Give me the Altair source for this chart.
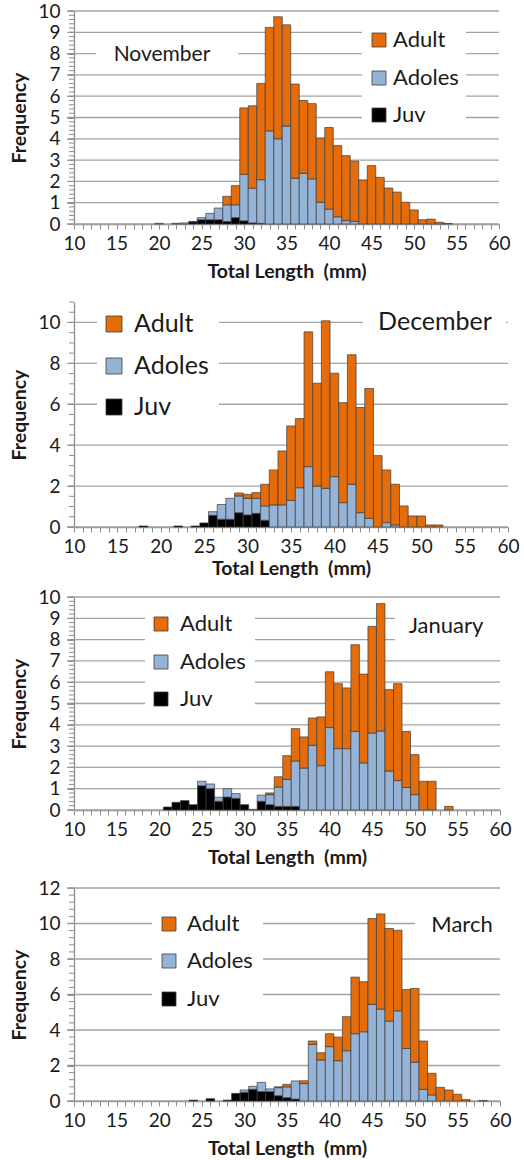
import altair as alt
import pandas as pd

# Size classes, stacked bottom to top
CLASSES = ["Juv", "Adoles", "Adult"]
CLASS_COLORS = ["#000000", "#95B3D7", "#E46C0A"]
LEGEND_ORDER = ["Adult", "Adoles", "Juv"]

# Frequency per 1-mm total-length class, one list per life stage
nov_first = 20
nov_juv = [0, 0, 0, 0, 0.10, 0.20, 0.20, 0.20, 0.12, 0.30, 0.15, 0.05, 0.03,
           0, 0, 0, 0, 0, 0, 0, 0, 0, 0, 0, 0, 0, 0, 0, 0, 0, 0, 0, 0, 0, 0]
nov_adoles = [0.03, 0, 0.03, 0.05, 0.02, 0.10, 0.30, 0.55, 0.78, 0.60, 2.18, 1.63,
              2.05, 4.37, 4.00, 4.60, 2.15, 2.38, 2.12, 1.02, 0.70, 0.34, 0.16, 0.12,
              0, 0, 0, 0, 0, 0, 0, 0, 0, 0, 0]
nov_adult = [0, 0, 0, 0, 0, 0, 0, 0, 0.40, 0.90, 3.12, 3.87, 4.52, 4.86, 5.73, 4.75,
             4.42, 3.42, 3.53, 3.02, 3.83, 3.34, 3.05, 2.83, 2.07, 2.74, 2.19, 1.69,
             1.50, 1.02, 0.66, 0.20, 0.23, 0.08, 0.02]

dec_first = 18
dec_juv = [0.05, 0, 0, 0, 0.05, 0, 0.05, 0.20, 0.57, 0.38, 0.38, 0.70, 0.59, 0.67, 0.33,
           0, 0, 0, 0, 0, 0, 0, 0, 0, 0, 0, 0, 0, 0, 0, 0, 0, 0, 0, 0]
dec_adoles = [0, 0, 0, 0, 0, 0, 0, 0, 0.18, 0.72, 1.02, 0.82, 0.81, 0.73, 0.70, 1.08,
              1.08, 1.30, 1.92, 2.95, 2.00, 1.89, 2.46, 1.19, 2.09, 0.70, 0.42, 0, 0.21,
              0.10, 0, 0, 0, 0, 0]
dec_adult = [0, 0, 0, 0, 0, 0, 0, 0, 0, 0, 0, 0.14, 0.20, 0.28, 1.06, 1.71, 2.64, 3.64,
             3.38, 6.59, 5.03, 8.19, 5.06, 4.89, 6.33, 5.14, 6.35, 3.49, 2.58, 1.99, 1.03,
             0.54, 0.54, 0.10, 0.10]

jan_first = 21
jan_juv = [0.14, 0.36, 0.44, 0.25, 1.14, 1.00, 0.41, 0.61, 0.55, 0.25, 0, 0.41, 0.25,
           0.17, 0.17, 0.17, 0, 0, 0, 0, 0, 0, 0, 0, 0, 0, 0, 0, 0, 0, 0, 0, 0, 0]
jan_adoles = [0, 0, 0, 0, 0.21, 0.22, 0.19, 0.39, 0.22, 0, 0.03, 0.29, 0.47, 0.91, 1.27,
              2.13, 1.97, 3.04, 2.08, 3.87, 2.88, 2.88, 3.69, 2.21, 3.61, 3.71, 1.83,
              1.38, 1.06, 0.72, 0, 0, 0, 0]
jan_adult = [0, 0, 0, 0, 0, 0, 0, 0, 0, 0, 0, 0, 0.08, 0.48, 1.11, 1.52, 1.46, 1.28,
             2.29, 2.62, 3.05, 2.85, 4.07, 4.17, 5.01, 5.98, 3.82, 4.55, 2.63, 1.88,
             1.35, 1.35, 0, 0.17]

mar_first = 24
mar_juv = [0.05, 0, 0.13, 0, 0.05, 0.43, 0.49, 0.66, 0.53, 0.53, 0.30, 0.19, 0.11,
           0, 0, 0, 0, 0, 0, 0, 0, 0, 0, 0, 0, 0, 0, 0, 0, 0, 0, 0, 0, 0, 0]
mar_adoles = [0, 0, 0, 0, 0, 0, 0.13, 0.17, 0.52, 0.15, 0.45, 0.61, 1.02, 0.98, 3.19,
              2.31, 3.06, 2.27, 2.83, 3.79, 3.90, 5.44, 5.18, 4.50, 5.08, 2.96, 2.18,
              0.66, 0.34, 0, 0, 0, 0, 0, 0]
mar_adult = [0, 0, 0, 0, 0, 0, 0, 0, 0, 0, 0.05, 0.14, 0, 0.16, 0.19, 0.41, 0.73, 1.33,
             1.92, 3.19, 2.82, 4.84, 5.36, 5.22, 4.54, 3.32, 4.16, 2.72, 1.22, 0.77,
             0.62, 0.38, 0.08, 0, 0.03]

X_TICKS = list(range(10, 61))
X_TITLE = "Total Length\u00a0\u00a0(mm)"

FONT = "Lato"
GRID = "#a3a3a3"
AXIS = "#8c8c8c"
INK = "#1a1a1a"
EDGE = "#3c3c3c"

# Per-panel geometry (pixels, relative to each plot area)
PANELS = [
    dict(month="November", first=nov_first, cls=(nov_juv, nov_adoles, nov_adult),
         ymax=10, major=1, minor=0.2, w=425, h=213, below=67.7, title_pad=9,
         legend=dict(box=(288, 392, 11, 119), sq_x=305, sq=14, text_x=319,
                     rows=(29, 67, 104), size=22),
         label=dict(box=(22, 164, 31, 56), x=88, y=44, size=21)),
    dict(month="December", first=dec_first, cls=(dec_juv, dec_adoles, dec_adult),
         ymax=11, major=2, minor=0.5, w=434, h=225, below=59.7, title_pad=3,
         legend=dict(box=(23, 145, 5, 120), sq_x=40, sq=16, text_x=60,
                     rows=(22, 64, 105), size=25),
         label=dict(box=(289, 432, 5, 36), x=361, y=20, size=25)),
    dict(month="January", first=jan_first, cls=(jan_juv, jan_adoles, jan_adult),
         ymax=10, major=1, minor=0.2, w=426, h=213, below=67.3, title_pad=9,
         legend=dict(box=(71, 181, 8, 117), sq_x=87, sq=14, text_x=106,
                     rows=(27, 65, 102), size=22),
         label=dict(box=(321, 426, 12, 52), x=372, y=29, size=22)),
    dict(month="March", first=mar_first, cls=(mar_juv, mar_adoles, mar_adult),
         ymax=12, major=2, minor=0.4, w=426, h=213, below=58, title_pad=9,
         legend=dict(box=(78, 189, 18, 122), sq_x=95, sq=14, text_x=113,
                     rows=(36, 73, 111), size=22),
         label=dict(box=(341, 426, 22, 50), x=388, y=37, size=22)),
]


def steps(stop, step):
    n = int(round(stop / step))
    return [round(i * step, 4) for i in range(n + 1)]


def long_table(first, series):
    rows = []
    for i, values in enumerate(zip(*series)):
        for order, (cls, val) in enumerate(zip(CLASSES, values)):
            if val > 0:
                rows.append({"len": first + i, "cls": cls, "order": order, "count": val})
    return pd.DataFrame(rows)


def one_row():
    return alt.Chart(alt.Data(values=[{}]))


def panel(p):
    w, h = p["w"], p["h"]
    xscale = alt.Scale(domain=[10, 60], nice=False, zero=False)
    yscale = alt.Scale(domain=[0, p["ymax"]], nice=False, zero=True)

    major_vals = steps(p["ymax"] - p["ymax"] % p["major"], p["major"])
    majors = pd.DataFrame({"v": major_vals})
    minors = pd.DataFrame({"v": steps(p["ymax"], p["minor"])})

    yaxis = alt.Axis(
        values=major_vals, grid=False, tickSize=7, tickColor=AXIS,
        domainColor=AXIS, domainWidth=1.3, labelFont=FONT, labelFontSize=19,
        labelColor=INK, labelPadding=7,
        title="Frequency", titleFont=FONT, titleFontSize=19.5,
        titleFontWeight="bold", titleColor=INK, titlePadding=8)

    grid = alt.Chart(majors).mark_rule(color=GRID, strokeWidth=1.3).encode(
        y=alt.Y("v:Q", scale=yscale, axis=yaxis),
        x=alt.value(-7), x2=alt.value(w),
    )
    minor_ticks = alt.Chart(minors).mark_rule(color=AXIS, strokeWidth=1).encode(
        y=alt.Y("v:Q", scale=yscale, axis=yaxis),
        x=alt.value(-5), x2=alt.value(0),
    )

    layers = [grid, minor_ticks]

    # white panels that break the gridlines behind the key and the month name
    for bx in (p["legend"]["box"], p["label"]["box"]):
        layers.append(one_row().mark_rect(color="white").encode(
            x=alt.value(bx[0]), x2=alt.value(bx[1]),
            y=alt.value(bx[2]), y2=alt.value(bx[3])))

    bars = alt.Chart(long_table(p["first"], p["cls"])).transform_calculate(
        lo="datum.len - 0.5", hi="datum.len + 0.5"
    ).transform_stack(
        stack="count", groupby=["len"], as_=["y0", "y1"],
        sort=[alt.SortField("order", order="ascending")],
    ).mark_rect(stroke=EDGE, strokeWidth=0.7).encode(
        x=alt.X("lo:Q", scale=xscale, axis=alt.Axis(
            values=X_TICKS, labelExpr="datum.value % 5 === 0 ? datum.label : ''",
            labelOverlap=False, labelFlush=False, grid=False,
            tickSize=5, tickColor=AXIS, domainColor=AXIS, domainWidth=1.3,
            labelFont=FONT, labelFontSize=19, labelColor=INK, labelPadding=5,
            title=X_TITLE, titleFont=FONT, titleFontSize=19.5,
            titleFontWeight="bold", titleColor=INK, titlePadding=p["title_pad"])),
        x2="hi:Q",
        y=alt.Y("y0:Q", scale=yscale, axis=yaxis),
        y2="y1:Q",
        color=alt.Color("cls:N", scale=alt.Scale(domain=CLASSES, range=CLASS_COLORS),
                        legend=None),
    )
    layers.append(bars)

    lg = p["legend"]
    half = lg["sq"] / 2
    for name, yc in zip(LEGEND_ORDER, lg["rows"]):
        color = CLASS_COLORS[CLASSES.index(name)]
        layers.append(one_row().mark_rect(fill=color, stroke=EDGE, strokeWidth=0.8).encode(
            x=alt.value(lg["sq_x"] - half), x2=alt.value(lg["sq_x"] + half),
            y=alt.value(yc - half), y2=alt.value(yc + half)))
        layers.append(one_row().mark_text(
            text=name, font=FONT, fontSize=lg["size"], color=INK,
            align="left", baseline="middle").encode(
            x=alt.value(lg["text_x"]), y=alt.value(yc)))

    lb = p["label"]
    layers.append(one_row().mark_text(
        text=p["month"], font=FONT, fontSize=lb["size"], color=INK,
        align="center", baseline="middle").encode(
        x=alt.value(lb["x"]), y=alt.value(lb["y"])))

    # transparent frame that fixes the vertical room taken by each panel
    layers.append(one_row().mark_rule(opacity=0).encode(
        x=alt.value(0), y=alt.value(-10), y2=alt.value(h + p["below"])))

    return alt.layer(*layers).properties(width=w, height=h)


chart = alt.vconcat(*[panel(p) for p in PANELS], spacing=0).properties(
    padding={"left": 9, "top": 1, "right": 4, "bottom": 0},
    background="white",
).configure_view(stroke=None)

chart.save("out.html", embed_options={"renderer": "svg", "actions": False})
